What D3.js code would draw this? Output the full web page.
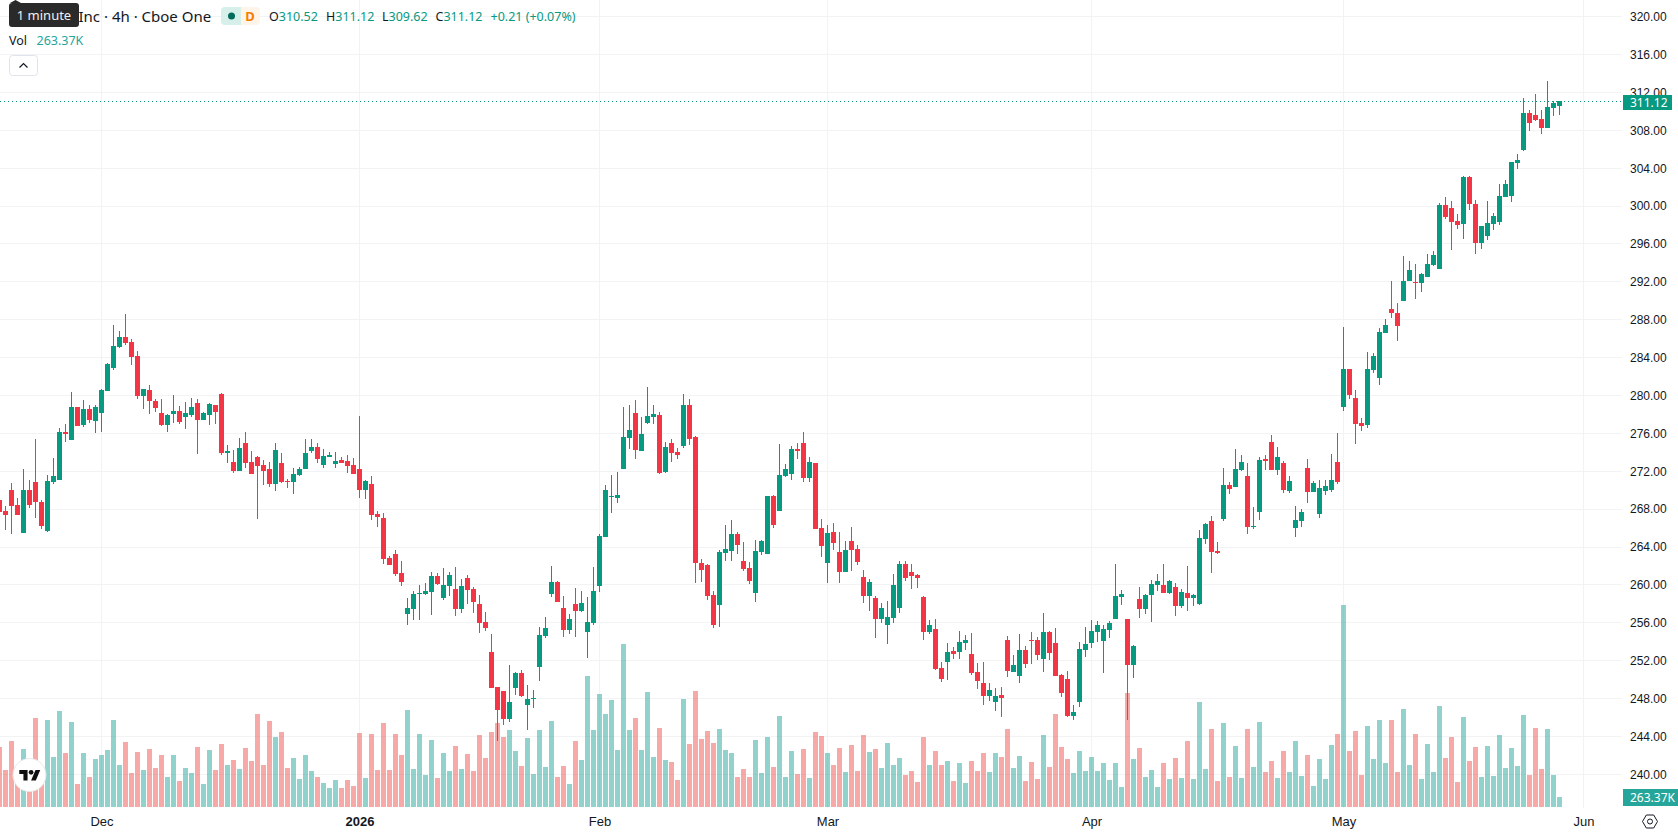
<!DOCTYPE html>
<html>
<head>
<meta charset="utf-8">
<title>Inc · 4h · Cboe One</title>
<script src="https://cdnjs.cloudflare.com/ajax/libs/d3/7.8.5/d3.min.js"></script>
<style>
  html, body { margin: 0; padding: 0; background: #fff; overflow: hidden; }
  svg { display: block; font-family: "Noto Sans", sans-serif; }
  .tick text { fill: #131722; font-size: 12px; }
  .axis path.domain { display: none; }
</style>
</head>
<body>
<svg id="chart" width="1678" height="835"></svg>
<script>
// Four-hour OHLC bars, oldest first
const opens = [
268.96,267.80,270.02,268.44,265.48,270.02,270.87,268.75,265.69,270.87,271.08,276.14,275.30,278.78,276.88,278.57,277.31,
278.15,280.47,282.90,285.12,286.18,285.65,284.17,279.95,280.58,279.42,
278.15,276.88,278.05,278.36,277.73,277.94,279.21,277.41,277.94,278.99,
280.16,273.93,272.98,272.03,274.98,272.98,273.50,272.66,272.24,270.65,
272.88,270.97,270.87,271.61,272.24,274.14,274.56,272.66,273.51,272.77,
273.19,273.09,272.66,272.24,270.02,270.66,267.49,267.07,262.84,263.27,
261.26,256.93,257.46,259.04,259.04,259.25,260.94,258.62,259.89,259.57,
257.46,260.73,259.57,257.99,256.08,252.92,249.22,248.80,245.84,249.12,
250.70,247.32,247.95,251.33,254.61,259.04,260.31,257.56,255.23,257.98,
257.24,255.02,255.97,259.88,265.05,269.28,269.17,272.24,275.51,278.15,
274.14,277.09,277.73,277.94,271.92,274.98,274.03,274.66,279.00,275.62,
262.31,262.10,258.93,257.87,263.37,263.58,265.37,262.52,261.78,259.14,
263.47,263.26,269.38,267.80,271.50,271.71,274.35,274.98,271.29,272.87,
266.01,262.31,265.58,263.47,261.36,264.63,263.79,260.83,258.82,258.61,
256.40,255.76,256.50,257.56,262.20,261.36,261.04,258.72,255.02,255.34,
251.22,251.85,253.02,252.91,253.86,252.70,250.80,249.64,248.26,247.63,
248.37,254.18,250.80,250.37,253.12,254.18,254.18,252.17,255.02,253.86,
250.48,250.06,246.15,247.63,253.12,253.86,255.02,254.07,255.23,256.39,
258.72,256.39,251.54,258.51,257.45,258.93,259.98,259.98,259.14,259.77,
257.77,259.14,258.61,257.98,264.84,266.74,263.57,266.95,270.54,270.33,
272.13,271.49,266.11,267.69,273.29,275.08,272.13,272.87,269.91,266.00,
266.74,272.34,269.80,267.48,269.91,270.02,272.98,278.78,282.80,279.73,
277.09,276.88,282.69,281.84,286.60,289.13,288.71,289.98,292.09,291.98,
291.88,292.51,293.78,293.36,300.11,299.80,298.42,298.11,303.07,300.22,
296.10,296.84,298.11,298.32,300.96,301.06,304.55,305.92,309.83,309.62,
309.20,308.25,310.36,310.52];

const highs = [
268.96,268.33,270.76,269.18,272.24,271.08,275.41,268.96,271.60,273.40,276.57,276.99,280.37,278.78,279.52,278.99,278.99,
280.69,283.43,287.44,286.81,288.61,285.97,284.70,280.69,281.11,279.63,
279.63,278.05,280.05,278.89,279.31,279.74,279.63,278.26,279.21,278.99,
280.26,274.77,274.24,275.51,276.14,274.14,273.61,273.19,272.98,274.98,
273.93,271.19,272.35,272.45,275.41,275.41,274.99,274.35,274.04,274.04,
273.51,273.72,273.40,277.84,271.08,271.50,267.81,267.60,263.05,263.69,
262.53,258.62,259.36,259.99,260.20,261.36,261.26,261.79,261.36,261.89,
260.63,261.05,259.78,258.94,257.14,254.82,249.22,248.80,251.54,250.80,
251.02,249.43,248.90,255.56,256.61,261.98,260.41,258.82,256.92,259.67,
259.35,258.72,261.89,265.37,270.55,271.60,271.92,278.78,279.00,279.52,
277.73,280.89,279.00,278.25,275.09,275.40,274.45,280.16,279.63,275.72,
262.73,262.20,259.35,263.68,266.32,266.85,265.58,264.53,262.41,264.74,
264.74,269.38,269.49,274.88,272.76,274.66,274.98,276.14,273.50,272.87,
266.96,266.32,266.53,265.58,264.63,266.11,264.21,261.57,260.62,258.82,
258.09,258.30,261.15,262.52,262.52,262.20,261.15,258.82,256.29,256.40,
251.85,253.86,253.44,255.13,254.71,254.92,251.75,251.85,249.64,249.11,
249.22,254.60,252.59,254.81,253.54,255.02,254.49,257.03,255.13,255.44,
250.59,250.90,247.31,253.96,255.55,256.29,256.18,255.76,256.18,262.20,
259.46,256.39,253.65,259.77,259.03,260.51,261.15,262.20,260.51,260.20,
259.56,261.99,259.03,265.79,266.53,267.27,264.52,272.34,270.86,274.35,
273.71,272.87,268.22,273.50,273.71,275.82,274.56,273.08,271.49,268.33,
268.01,273.29,270.97,271.07,271.07,273.80,276.03,287.23,282.80,280.58,
277.62,284.59,284.49,287.13,288.08,292.09,289.77,294.73,294.20,293.88,
292.93,294.94,295.26,300.33,300.96,300.54,299.16,303.18,303.18,300.64,
297.90,300.54,299.27,302.33,302.75,304.65,305.50,311.41,310.15,311.84,
310.15,313.21,311.10,311.12];

const lows = [
267.73,265.80,265.37,267.38,265.48,268.12,267.06,265.90,265.58,270.65,271.08,275.09,275.30,276.78,276.67,277.10,276.04,
276.14,280.47,282.69,285.01,285.33,283.22,279.63,278.57,278.05,278.26,
276.78,276.14,277.10,276.99,276.46,277.73,273.82,277.41,276.88,276.99,
273.72,272.87,271.82,272.03,272.34,271.71,266.96,270.55,270.34,269.91,
270.76,270.24,269.60,271.50,272.24,273.93,272.88,272.35,273.51,272.35,
272.88,271.82,271.71,269.18,269.07,266.86,266.12,262.21,262.10,260.94,
259.89,255.77,256.30,256.30,258.94,256.82,259.99,258.41,258.83,256.72,
257.04,257.99,257.04,254.92,255.13,249.12,243.52,245.21,245.52,248.38,
248.16,244.68,246.96,249.85,254.40,258.73,258.20,254.50,254.81,254.50,
257.14,252.28,255.76,259.25,265.05,267.59,268.65,272.24,274.35,273.29,
274.14,276.99,276.99,271.71,271.81,272.97,273.29,274.45,274.77,260.20,
260.30,258.40,255.45,255.55,262.52,262.52,263.26,261.46,260.09,258.19,
263.15,263.26,266.00,267.80,271.39,271.07,273.29,270.86,270.86,265.90,
262.94,260.20,263.68,260.20,261.36,261.46,262.10,258.09,257.24,254.39,
255.97,253.76,255.97,257.03,260.41,259.56,259.67,254.18,254.81,251.01,
249.74,249.95,252.17,252.17,253.12,250.48,249.00,247.31,247.74,246.68,
246.05,250.27,250.80,249.64,251.22,251.64,252.07,250.80,252.07,250.37,
248.16,246.04,245.73,247.10,252.38,253.33,253.96,250.69,254.39,256.39,
257.87,245.73,250.16,256.50,256.92,256.08,259.35,259.14,259.03,256.71,
257.56,257.24,257.77,257.87,264.31,261.25,263.26,266.74,269.59,270.33,
272.02,265.37,265.90,266.85,272.13,272.13,271.60,269.70,269.70,265.05,
266.11,268.64,269.80,267.06,269.50,269.80,270.65,278.36,279.63,274.88,
276.25,276.57,282.37,281.11,286.60,288.18,285.75,289.98,292.09,290.19,
290.93,292.51,293.67,293.36,298.64,295.36,297.58,296.52,299.59,294.94,
295.47,296.42,297.47,298.00,300.96,300.43,303.92,305.82,307.93,308.98,
307.61,308.25,309.51,309.62];

const closes = [
267.73,267.38,268.33,267.38,270.02,268.44,268.75,266.22,270.97,271.50,276.14,275.93,278.78,276.78,278.57,277.41,278.78,
280.58,283.33,285.23,286.18,285.54,284.06,279.95,280.69,279.42,278.68,
276.88,277.94,278.36,277.20,278.15,278.78,277.41,278.15,279.10,278.26,
273.93,274.14,272.03,274.46,272.87,271.71,272.55,272.03,270.65,274.24,
270.87,270.87,271.71,272.24,273.93,274.56,273.30,273.61,273.72,273.09,
272.88,272.56,271.71,270.02,270.97,267.38,267.17,262.74,262.10,261.15,
260.31,257.56,259.04,259.15,259.36,260.94,260.10,259.99,261.05,257.46,
259.89,259.46,258.20,255.98,255.45,249.12,246.79,245.84,247.64,250.70,
248.27,247.95,248.06,254.71,255.45,260.31,258.20,255.23,256.40,257.24,
258.09,256.08,259.35,265.16,270.02,269.38,269.49,275.62,276.35,274.24,
275.93,277.83,278.04,271.81,274.56,273.93,273.71,279.00,275.40,262.31,
261.57,258.82,255.76,263.47,263.79,265.37,264.21,261.68,260.41,263.58,
264.63,269.38,266.32,271.60,272.24,274.35,274.14,271.29,272.97,265.90,
264.10,265.48,264.42,261.36,263.68,263.68,262.41,258.82,260.30,256.40,
257.56,256.61,259.99,262.20,260.72,260.94,260.72,255.02,255.76,251.12,
250.06,252.91,252.70,253.97,254.18,250.69,249.85,248.26,248.90,248.26,
248.05,250.90,251.54,253.12,251.64,254.07,252.59,255.02,252.81,250.37,
248.58,246.15,246.57,253.23,253.75,255.13,255.76,255.34,255.97,258.82,
259.03,251.54,253.54,257.45,258.93,260.09,260.41,259.14,260.41,257.77,
259.24,258.61,258.93,264.95,266.43,263.47,263.36,270.54,270.12,272.23,
272.97,266.11,266.21,273.18,273.08,272.13,273.50,270.02,270.97,266.85,
267.69,269.80,270.76,270.23,270.44,271.08,270.90,282.80,280.05,276.99,
276.78,282.80,284.17,286.70,287.44,288.71,287.34,292.09,293.25,291.88,
292.83,293.88,294.83,300.11,298.85,298.32,298.00,303.07,300.22,296.10,
297.90,298.21,298.95,301.06,302.33,304.65,304.87,309.83,308.77,309.09,
308.25,310.46,310.89,311.12];

// Volume per bar, in thousands of shares
const volumes = [
1580,975,1738,1054,1528,711,2344,711,2292,1317,2529,1422,2239,606,1422,790,1264,
1370,1501,2292,1106,1712,896,1449,975,1528,1027,
1370,790,1370,685,1027,896,1580,606,1501,975,
1659,1106,1238,1001,1554,1212,2450,1106,2265,1844,
1976,1027,1291,738,1370,948,790,632,500,711,
500,711,553,1949,764,1923,975,2213,975,1923,
1370,2555,1001,1923,843,1765,764,1422,948,1607,
1001,1396,948,1896,1291,1976,2213,1844,2028,1475,
1080,1817,869,2028,1054,2265,790,1080,606,1738,
1238,3451,2028,2976,2450,2818,1501,4293,2028,2344,
1501,3029,1317,2081,1238,1185,711,2845,1659,3055,
1791,2002,1686,2055,1501,1422,790,1001,790,1765,
896,1844,1054,2397,790,1475,869,1528,764,1976,
1870,1422,1106,1554,922,1633,948,1896,1449,1528,
1027,1686,1106,1291,843,948,659,1844,1106,1475,
1106,1212,685,1159,632,1212,948,1422,922,1422,
1317,2055,1027,1343,685,1185,738,1896,1054,2450,
1580,1264,896,1475,948,1317,948,1159,711,1159,
527,3003,1264,1554,790,975,527,1159,738,1291,
764,1738,738,2766,1001,2055,685,2213,790,1607,
764,2055,1054,2239,922,1212,764,1475,922,1738,
817,1370,553,1264,738,1633,1923,5321,1475,2002,
843,2134,1264,2292,1159,2292,922,2581,1106,1923,
738,1659,922,2660,1291,1844,659,2371,1212,1580,
790,1607,817,1896,1027,1554,1080,2423,843,2081,
1001,2055,843,263.37];

const priceTicks = [240,244,248,252,256,260,264,268,272,276,280,284,288,292,296,300,304,308,312,316,320];
const timeTickBars = [17,60,100,138,182,224,264];
const timeTickLabels = ["Dec","2026","Feb","Mar","Apr","May","Jun"];
const lastPrice = 311.12;
const lastVolumeLabel = "263.37K";

const UP = "#089981", DOWN = "#F23645", GRID = "#f2f3f5", INK = "#131722";
const VOL_UP = "#26a69a", VOL_DOWN = "#ef5350";
const PANE_RIGHT = 1622, PANE_BOTTOM = 807;

const bars = opens.map((o, i) => ({ i, o, h: highs[i], l: lows[i], c: closes[i], v: volumes[i] }));

const x = d3.scaleLinear().domain([0, 264]).range([-0.5, 1583.5]);
const y = d3.scaleLinear().domain([240, 320]).range([774.3, 16.7]);
const yVol = d3.scaleLinear().domain([0, 5321]).range([PANE_BOTTOM, 605]);

const svg = d3.select("#chart");
const snap = v => Math.floor(v) + 0.5;

// Grid lines
const grid = svg.append("g").attr("stroke", GRID).attr("stroke-width", 1);
grid.selectAll("line.h").data(priceTicks).join("line").attr("class", "h")
  .attr("x1", 0).attr("x2", PANE_RIGHT).attr("y1", d => snap(y(d))).attr("y2", d => snap(y(d)));
grid.selectAll("line.v").data(timeTickBars).join("line").attr("class", "v")
  .attr("x1", d => x(d)).attr("x2", d => x(d)).attr("y1", 0).attr("y2", PANE_BOTTOM + 1);

// Volume histogram sits behind the candles
svg.append("g").selectAll("rect").data(bars).join("rect")
  .attr("x", d => x(d.i) - 2.5).attr("width", 5)
  .attr("y", d => Math.round(yVol(d.v))).attr("height", d => PANE_BOTTOM - Math.round(yVol(d.v)))
  .attr("fill", d => d.c >= d.o ? VOL_UP : VOL_DOWN).attr("fill-opacity", 0.5);

// Candles: wick first, body on top
const candles = svg.append("g").selectAll("g").data(bars).join("g")
  .attr("fill", d => d.c >= d.o ? UP : DOWN);
candles.append("rect")
  .attr("x", d => x(d.i) - 0.5).attr("width", 1)
  .attr("y", d => Math.round(y(d.h))).attr("height", d => Math.max(1, Math.round(y(d.l)) - Math.round(y(d.h))));
candles.append("rect")
  .attr("x", d => x(d.i) - 2.5).attr("width", 5)
  .attr("y", d => Math.round(y(Math.max(d.o, d.c))))
  .attr("height", d => Math.max(1, Math.round(y(Math.min(d.o, d.c))) - Math.round(y(Math.max(d.o, d.c)))));

// Price axis
svg.append("g").attr("class", "axis").attr("transform", `translate(1630,0)`)
  .call(d3.axisRight(y).tickValues(priceTicks).tickSize(0).tickPadding(0).tickFormat(d => d.toFixed(2)));

// Time axis
svg.append("g").attr("class", "axis").attr("transform", `translate(0,${PANE_BOTTOM})`)
  .call(d3.axisBottom(x).tickValues(timeTickBars).tickSize(0).tickPadding(10)
    .tickFormat((d, i) => timeTickLabels[i]))
  .selectAll(".tick text").style("font-size", "13px")
  .style("font-weight", (d, i) => timeTickLabels[i] === "2026" ? 700 : 400);

// Last price line and its label
const lastY = Math.round(y(lastPrice)) + 0.5;
svg.append("line").attr("x1", 0).attr("x2", PANE_RIGHT)
  .attr("y1", lastY).attr("y2", lastY)
  .attr("stroke", UP).attr("stroke-dasharray", "1 3");
svg.append("rect").attr("x", 1623).attr("y", 95).attr("width", 49).attr("height", 15).attr("fill", UP);
svg.append("text").attr("x", 1630).attr("y", 106.5).attr("fill", "#fff").style("font-size", "12px")
  .text(lastPrice.toFixed(2));

// Last volume label
svg.append("rect").attr("x", 1623).attr("y", 789).attr("width", 55).attr("height", 17).attr("fill", VOL_UP);
svg.append("text").attr("x", 1630).attr("y", 801.5).attr("fill", "#fff").style("font-size", "12px")
  .text(lastVolumeLabel);

// Legend row
const legend = svg.append("g");
legend.append("text").attr("x", 78.5).attr("y", 22).attr("fill", INK).style("font-size", "15px").text("Inc · 4h · Cboe One");
legend.append("path").attr("d", "M225,7H241V25H225a4,4 0 0 1 -4,-4V11a4,4 0 0 1 4,-4Z").attr("fill", "#d6efeb");
legend.append("path").attr("d", "M241,7H256a4,4 0 0 1 4,4V21a4,4 0 0 1 -4,4H241Z").attr("fill", "#fff4e8");
legend.append("circle").attr("cx", 231.5).attr("cy", 16).attr("r", 3.5).attr("fill", "#056b5a");
legend.append("text").attr("x", 250).attr("y", 20.5).attr("text-anchor", "middle").attr("fill", "#f57c00")
  .style("font-size", "13px").style("font-weight", 700).text("D");

const ohlcFields = [
  { tag: "O", value: "310.52", x: 269 },
  { tag: "H", value: "311.12", x: 326 },
  { tag: "L", value: "309.62", x: 382 },
  { tag: "C", value: "311.12", x: 435.5 }
];
const ohlc = legend.selectAll("text.ohlc").data(ohlcFields).join("text").attr("class", "ohlc")
  .attr("x", d => d.x).attr("y", 21).style("font-size", "12.5px").attr("fill", INK);
ohlc.append("tspan").text(d => d.tag);
ohlc.append("tspan").attr("fill", UP).text(d => d.value);
legend.append("text").attr("x", 490.5).attr("y", 21).attr("fill", UP).style("font-size", "12.5px").text("+0.21 (+0.07%)");

legend.append("text").attr("x", 9).attr("y", 45).attr("fill", INK).style("font-size", "12.5px").text("Vol");
legend.append("text").attr("x", 36.5).attr("y", 45).attr("fill", VOL_UP).style("font-size", "12.5px").text(lastVolumeLabel);

// Collapse button under the legend
legend.append("rect").attr("x", 9.5).attr("y", 55.5).attr("width", 28).attr("height", 20).attr("rx", 3)
  .attr("fill", "#fff").attr("stroke", "#e0e3eb");
legend.append("path").attr("d", "M19.5,67.5L23.5,63.5L27.5,67.5").attr("fill", "none").attr("stroke", INK).attr("stroke-width", 1.2);

// Hover tooltip
const tip = svg.append("g");
tip.append("path").attr("d", "M10,3L15.5,0L21,3Z").attr("fill", "#2a2a2a");
tip.append("rect").attr("x", 9).attr("y", 3).attr("width", 70).attr("height", 24).attr("rx", 3).attr("fill", "#2a2a2a");
tip.append("text").attr("x", 44).attr("y", 20).attr("text-anchor", "middle").attr("fill", "#f0f0f0")
  .style("font-size", "13px").text("1 minute");

// Logo badge
const logo = svg.append("g");
logo.append("circle").attr("cx", 29.5).attr("cy", 775).attr("r", 16.5)
  .attr("fill", "#fff").attr("stroke", "#e8e8e8").attr("stroke-width", 1);
const mark = logo.append("g").attr("transform", "translate(19.3,767.6) scale(0.59)").attr("fill", "#0f0f0f");
mark.append("path").attr("d", "M14 22H7V11H0V4h14v18zM28 22h-8l7.5-18h8L28 22z");
mark.append("circle").attr("cx", 20).attr("cy", 8).attr("r", 4);

// Settings hexagon in the axis corner
const gear = svg.append("g").attr("fill", "none").attr("stroke", INK).attr("stroke-width", 1);
gear.append("path").attr("d", "M1642.5,821.5L1646.3,815H1653.7L1657.5,821.5L1653.7,828H1646.3Z");
gear.append("circle").attr("cx", 1650).attr("cy", 821.5).attr("r", 2.5);
</script>
</body>
</html>
